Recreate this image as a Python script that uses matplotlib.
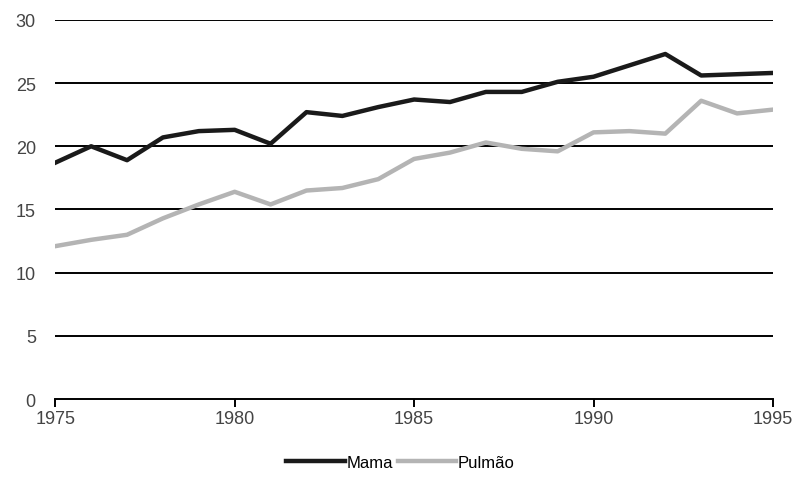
import matplotlib.pyplot as plt
from matplotlib.lines import Line2D

plt.rcParams['font.family'] = ['Liberation Sans', 'DejaVu Sans']

# anos e taxas
anos = list(range(1975, 1996))
mama = [18.7, 20.0, 18.9, 20.7, 21.2, 21.3, 20.2, 22.7, 22.4, 23.1, 23.7,
        23.5, 24.3, 24.3, 25.1, 25.5, 26.4, 27.3, 25.6, 25.7, 25.8]
pulmao = [12.1, 12.6, 13.0, 14.3, 15.4, 16.4, 15.4, 16.5, 16.7, 17.4, 19.0,
          19.5, 20.3, 19.8, 19.6, 21.1, 21.2, 21.0, 23.6, 22.6, 22.9]
yticks = [0, 5, 10, 15, 20, 25, 30]
xticks = [1975, 1980, 1985, 1990, 1995]

fig = plt.figure(figsize=(8.01, 4.85), dpi=100)
ax = fig.add_axes([0.069, 0.175, 0.896, 0.782])

# linhas de grade horizontais
for y in yticks[1:]:
    ax.axhline(y, color='black', lw=1.4, zorder=1)

ax.plot(anos, mama, color='#1a1a1a', lw=3.2, zorder=3, label='Mama')
ax.plot(anos, pulmao, color='#b4b4b4', lw=3.2, zorder=2, label='Pulmão')

ax.set_xlim(1975, 1995)
ax.set_ylim(0, 30)
ax.set_yticks(yticks)
ax.set_xticks(xticks)

for s in ['left', 'right', 'top']:
    ax.spines[s].set_visible(False)
ax.spines['bottom'].set_linewidth(1.4)
ax.tick_params(axis='y', length=0, pad=14, labelsize=13, labelcolor='#444444')
ax.tick_params(axis='x', length=6, width=1.4, direction='out', pad=2,
               labelsize=13, labelcolor='#444444')

handles = [Line2D([], [], color='#1a1a1a', lw=3.2),
           Line2D([], [], color='#b4b4b4', lw=3.2)]
fig.legend(handles, ['Mama', 'Pulmão'], loc='center', bbox_to_anchor=(0.5, 0.045),
           ncol=2, frameon=False, fontsize=12, handlelength=3.5,
           handletextpad=0.1, columnspacing=0.3)

fig.savefig('out.png', dpi=100)
